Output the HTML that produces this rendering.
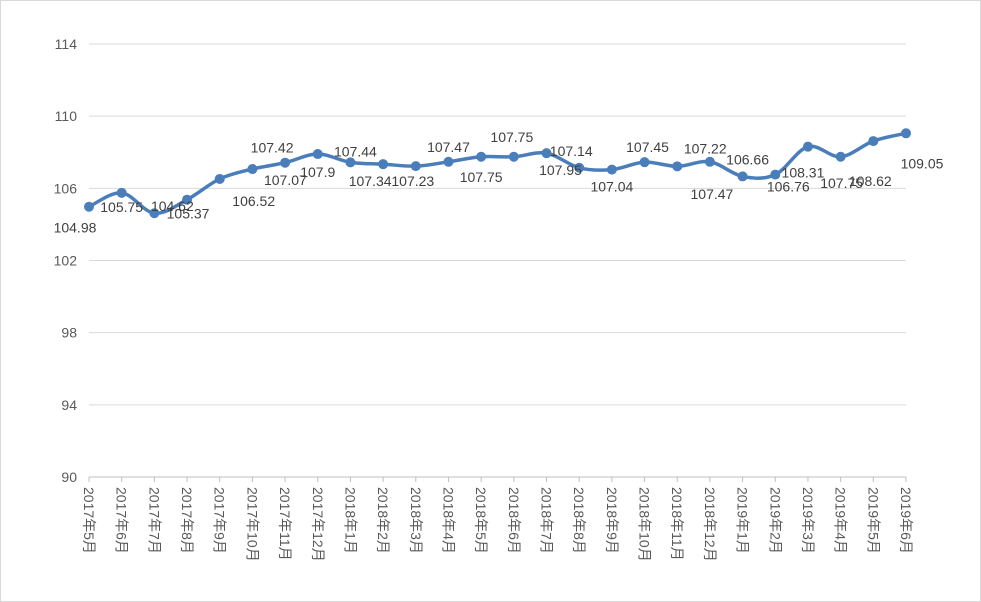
<!DOCTYPE html>
<html><head><meta charset="utf-8"><style>
html,body{margin:0;padding:0;background:#fff;}
svg{display:block;font-family:"Liberation Sans","Noto Sans CJK SC",sans-serif;}
</style></head><body>
<svg id="chart" width="981" height="602">
<rect x="0.5" y="0.5" width="980" height="601" fill="#fff" stroke="#d9d9d9"/>
<g id="grid"></g><g id="xaxis"></g><g id="series"></g><g id="labels"></g>
</svg>
<script>
const categories=["2017年5月","2017年6月","2017年7月","2017年8月","2017年9月","2017年10月","2017年11月","2017年12月","2018年1月","2018年2月","2018年3月","2018年4月","2018年5月","2018年6月","2018年7月","2018年8月","2018年9月","2018年10月","2018年11月","2018年12月","2019年1月","2019年2月","2019年3月","2019年4月","2019年5月","2019年6月"];
const values=[104.98,105.75,104.62,105.37,106.52,107.07,107.42,107.9,107.44,107.34,107.23,107.47,107.75,107.75,107.95,107.14,107.04,107.45,107.22,107.47,106.66,106.76,108.31,107.75,108.62,109.05];
const yTicks=[90,94,98,102,106,110,114];
const labelOffsets=[[-14,21],[0,14],[18,-7],[1,14],[34,22],[33,11],[-13,-15],[0,18],[5,-11],[-13,17],[-3,15],[0,-15],[0,20],[-2,-20],[14,17],[-8,-17],[0,17],[3,-15],[28,-18],[2,32],[5,-17],[13,12],[-5,26],[1,26],[-3,40],[16,30]];
const NS="http://www.w3.org/2000/svg";
const x0=89,x1=906,yMin=90,yMax=114,yBot=477,yTop=44;
function xs(i){return x0+(x1-x0)*i/(categories.length-1);}
function ys(v){return yBot-(v-yMin)/(yMax-yMin)*(yBot-yTop);}
function mk(tag,attrs,parent){const e=document.createElementNS(NS,tag);for(const k in attrs)e.setAttribute(k,attrs[k]);parent.appendChild(e);return e;}
const grid=document.getElementById('grid');
yTicks.forEach(t=>{
  const l=mk('line',{x1:x0,x2:x1,y1:ys(t),y2:ys(t),stroke:t===yMin?'#bfbfbf':'#d9d9d9','stroke-width':1},grid);
  
  
  const tx=mk('text',{x:77,y:ys(t)+5,'text-anchor':'end','font-size':14,fill:'#595959'},grid);
  tx.textContent=t;
  
  
});
const xa=document.getElementById('xaxis');
categories.forEach((c,i)=>{
  const tk=mk('line',{x1:xs(i),x2:xs(i),y1:yBot,y2:yBot+5,stroke:'#bfbfbf'},xa);
  
  
  const t=mk('text',{x:0,y:0,'font-size':14,fill:'#595959',transform:`translate(${xs(i)-5},487) rotate(90)`},xa);
  t.textContent=c;
  
  
});
const pts=values.map((v,i)=>[xs(i),ys(v)]);
let d=`M${pts[0][0]},${pts[0][1]}`;
for(let i=0;i<pts.length-1;i++){
  const p0=pts[Math.max(0,i-1)],p1=pts[i],p2=pts[i+1],p3=pts[Math.min(pts.length-1,i+2)];
  const k=1/6;
  d+=` C${p1[0]+(p2[0]-p0[0])*k},${p1[1]+(p2[1]-p0[1])*k} ${p2[0]-(p3[0]-p1[0])*k},${p2[1]-(p3[1]-p1[1])*k} ${p2[0]},${p2[1]}`;
}
const s=document.getElementById('series');
const path=mk('path',{d:d,fill:'none',stroke:'#4a7ebb','stroke-width':3.5,'stroke-linejoin':'round'},s);


const lg=document.getElementById('labels');
pts.forEach((p,i)=>{
  const c=mk('circle',{cx:p[0],cy:p[1],r:5,fill:'#4a7ebb'},s);
  
  
  const o=labelOffsets[i]||[0,-15];
  const t=mk('text',{x:p[0]+o[0],y:p[1]+o[1]+5,'text-anchor':'middle','font-size':14,fill:'#404040'},lg);
  t.textContent=values[i];
  
  
});
</script>
</body></html>
